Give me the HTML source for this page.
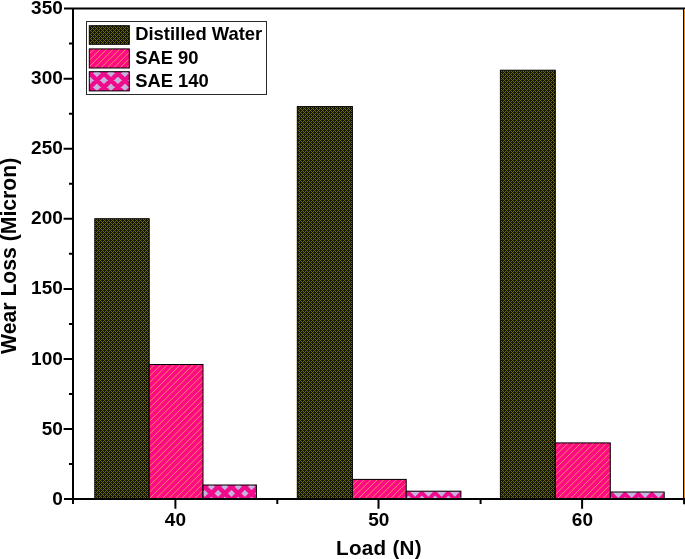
<!DOCTYPE html>
<html lang="en"><head><meta charset="utf-8"><title>Wear Loss vs Load</title>
<style>
html,body{margin:0;padding:0;background:#fff;}
body{width:685px;height:559px;overflow:hidden;}
svg{display:block;}
text{font-family:"Liberation Sans",sans-serif;font-weight:bold;fill:#000;}
.t{font-size:19px;letter-spacing:0.1px;}
.l{font-size:18.4px;}
.a{font-size:20.6px;letter-spacing:0.3px;}
.v{font-size:21.2px;}
</style></head><body>
<svg width="685" height="559" viewBox="0 0 685 559">
<defs>
<pattern id="pA" width="4" height="4" patternUnits="userSpaceOnUse" shape-rendering="crispEdges">
<rect width="4" height="4" fill="#141400"/>
<path d="M0,0h1v1h-1z M2,2h1v1h-1z M1,1h1v1h-1z M3,3h1v1h-1z M1,3h1v1h-1z M3,1h1v1h-1z" fill="#6a6a00"/>
</pattern>
<filter id="bl" x="-5%" y="-5%" width="110%" height="110%"><feGaussianBlur stdDeviation="0.7"/></filter>
</defs>
<rect width="685" height="559" fill="#fff"/>

<clipPath id="c1"><rect x="94.8" y="218.7" width="54.4" height="280.3"/></clipPath>
<g clip-path="url(#c1)"><rect x="91.8" y="215.7" width="60.4" height="286.3" fill="url(#pA)" filter="url(#bl)"/></g>
<rect x="94.8" y="218.7" width="54.4" height="280.3" fill="none" stroke="#000" stroke-width="1"/>
<clipPath id="c2"><rect x="149.2" y="364.5" width="53.8" height="134.5"/></clipPath>
<rect x="149.2" y="364.5" width="53.8" height="134.5" fill="#ff0a80"/>
<path clip-path="url(#c2)" d="M148.2,371.1L204.0,315.3M148.2,377.5L204.0,321.7M148.2,384.0L204.0,328.2M148.2,390.4L204.0,334.6M148.2,396.9L204.0,341.1M148.2,403.3L204.0,347.5M148.2,409.7L204.0,353.9M148.2,416.2L204.0,360.4M148.2,422.6L204.0,366.8M148.2,429.1L204.0,373.3M148.2,435.5L204.0,379.7M148.2,441.9L204.0,386.1M148.2,448.4L204.0,392.6M148.2,454.8L204.0,399.0M148.2,461.3L204.0,405.5M148.2,467.7L204.0,411.9M148.2,474.1L204.0,418.3M148.2,480.6L204.0,424.8M148.2,487.0L204.0,431.2M148.2,493.5L204.0,437.7M148.2,499.9L204.0,444.1M148.2,506.3L204.0,450.5M148.2,512.8L204.0,457.0M148.2,519.2L204.0,463.4M148.2,525.7L204.0,469.9M148.2,532.1L204.0,476.3M148.2,538.5L204.0,482.7M148.2,545.0L204.0,489.2M148.2,551.4L204.0,495.6" stroke="#f6a868" stroke-width="0.8" fill="none"/>
<rect x="149.2" y="364.5" width="53.8" height="134.5" fill="none" stroke="#000" stroke-width="1"/>
<clipPath id="c3"><rect x="203.0" y="485.0" width="53.4" height="14.0"/></clipPath>
<rect x="203.0" y="485.0" width="53.4" height="14.0" fill="#c6b4dc"/>
<path clip-path="url(#c3)" d="M200.0,478.0L259.4,418.6M200.0,491.4L259.4,432.0M200.0,504.8L259.4,445.4M200.0,518.2L259.4,458.8M200.0,531.6L259.4,472.2M200.0,545.0L259.4,485.6M200.0,558.4L259.4,499.0M200.0,508.8L259.4,568.2M200.0,495.4L259.4,554.8M200.0,482.0L259.4,541.4M200.0,468.6L259.4,528.0M200.0,455.2L259.4,514.6M200.0,441.8L259.4,501.2M200.0,428.4L259.4,487.8" stroke="#f00a8c" stroke-width="4.5" fill="none"/>
<rect x="203.0" y="485.0" width="53.4" height="14.0" fill="none" stroke="#000" stroke-width="1"/>
<clipPath id="c4"><rect x="297.3" y="106.6" width="55.1" height="392.4"/></clipPath>
<g clip-path="url(#c4)"><rect x="294.3" y="103.6" width="61.1" height="398.4" fill="url(#pA)" filter="url(#bl)"/></g>
<rect x="297.3" y="106.6" width="55.1" height="392.4" fill="none" stroke="#000" stroke-width="1"/>
<clipPath id="c5"><rect x="352.4" y="479.4" width="53.8" height="19.6"/></clipPath>
<rect x="352.4" y="479.4" width="53.8" height="19.6" fill="#ff0a80"/>
<path clip-path="url(#c5)" d="M351.4,486.3L407.2,430.5M351.4,492.7L407.2,436.9M351.4,499.2L407.2,443.4M351.4,505.6L407.2,449.8M351.4,512.1L407.2,456.3M351.4,518.5L407.2,462.7M351.4,524.9L407.2,469.1M351.4,531.4L407.2,475.6M351.4,537.8L407.2,482.0M351.4,544.3L407.2,488.5M351.4,550.7L407.2,494.9" stroke="#f6a868" stroke-width="0.8" fill="none"/>
<rect x="352.4" y="479.4" width="53.8" height="19.6" fill="none" stroke="#000" stroke-width="1"/>
<clipPath id="c6"><rect x="406.2" y="491.2" width="54.7" height="7.8"/></clipPath>
<rect x="406.2" y="491.2" width="54.7" height="7.8" fill="#f00a8c"/>
<path clip-path="url(#c6)" d="M396.5,491.3L407.2,491.3L401.9,496.7zM409.7,491.3L420.5,491.3L415.1,496.7zM423.0,491.3L433.8,491.3L428.4,496.7zM436.2,491.3L447.0,491.3L441.6,496.7zM449.5,491.3L460.2,491.3L454.9,496.7zM462.7,491.3L473.5,491.3L468.1,496.7zM391.4,499.5L399.4,499.5L395.4,495.5zM404.6,499.5L412.6,499.5L408.6,495.5zM417.9,499.5L425.9,499.5L421.9,495.5zM431.1,499.5L439.1,499.5L435.1,495.5zM444.4,499.5L452.4,499.5L448.4,495.5zM457.6,499.5L465.6,499.5L461.6,495.5zM470.9,499.5L478.9,499.5L474.9,495.5z" fill="#c6b4dc"/>
<rect x="406.2" y="491.2" width="54.7" height="7.8" fill="none" stroke="#000" stroke-width="1"/>
<clipPath id="c7"><rect x="500.4" y="70.2" width="54.9" height="428.8"/></clipPath>
<g clip-path="url(#c7)"><rect x="497.4" y="67.2" width="60.9" height="434.8" fill="url(#pA)" filter="url(#bl)"/></g>
<rect x="500.4" y="70.2" width="54.9" height="428.8" fill="none" stroke="#000" stroke-width="1"/>
<clipPath id="c8"><rect x="555.3" y="442.9" width="55.0" height="56.1"/></clipPath>
<rect x="555.3" y="442.9" width="55.0" height="56.1" fill="#ff0a80"/>
<path clip-path="url(#c8)" d="M554.3,444.0L611.3,387.0M554.3,450.4L611.3,393.4M554.3,456.8L611.3,399.8M554.3,463.3L611.3,406.3M554.3,469.7L611.3,412.7M554.3,476.2L611.3,419.2M554.3,482.6L611.3,425.6M554.3,489.0L611.3,432.0M554.3,495.5L611.3,438.5M554.3,501.9L611.3,444.9M554.3,508.4L611.3,451.4M554.3,514.8L611.3,457.8M554.3,521.2L611.3,464.2M554.3,527.7L611.3,470.7M554.3,534.1L611.3,477.1M554.3,540.6L611.3,483.6M554.3,547.0L611.3,490.0M554.3,553.4L611.3,496.4" stroke="#f6a868" stroke-width="0.8" fill="none"/>
<rect x="555.3" y="442.9" width="55.0" height="56.1" fill="none" stroke="#000" stroke-width="1"/>
<clipPath id="c9"><rect x="610.3" y="492.0" width="53.9" height="7.0"/></clipPath>
<rect x="610.3" y="492.0" width="53.9" height="7.0" fill="#f00a8c"/>
<path clip-path="url(#c9)" d="M598.9,492.0L610.6,492.0L604.8,497.9zM612.3,492.0L624.1,492.0L618.2,497.9zM625.8,492.0L637.6,492.0L631.7,497.9zM639.2,492.0L651.0,492.0L645.1,497.9zM652.7,492.0L664.5,492.0L658.6,497.9zM666.1,492.0L677.9,492.0L672.0,497.9zM595.7,499.4L600.5,499.4L598.1,497.0zM609.1,499.4L613.9,499.4L611.5,497.0zM622.6,499.4L627.4,499.4L625.0,497.0zM636.1,499.4L640.9,499.4L638.5,497.0zM649.5,499.4L654.3,499.4L651.9,497.0zM663.0,499.4L667.8,499.4L665.4,497.0zM676.4,499.4L681.2,499.4L678.8,497.0z" fill="#c6b4dc"/>
<rect x="610.3" y="492.0" width="53.9" height="7.0" fill="none" stroke="#000" stroke-width="1"/>
<g stroke="#000" stroke-width="2" fill="none">
<path d="M73,7.4 V504 M64,8.4 H686 M64,499 H686 M684.1,498 V504.2"/>
<path d="M683.55,8 V499" stroke-width="1"/>
<path d="M684.5,9.3 V498" stroke="#e8901c" stroke-width="1"/>
<path d="M63.6,429.0 H73 M63.6,359.0 H73 M63.6,288.9 H73 M63.6,218.8 H73 M63.6,148.7 H73 M63.6,78.7 H73 M69,464.1 H73 M69,394.0 H73 M69,323.9 H73 M69,253.8 H73 M69,183.8 H73 M69,113.7 H73 M69,43.6 H73 M175.4,499 V508.8 M378.5,499 V508.8 M582.1,499 V508.8 M277.3,499 V504 M480.6,499 V504"/>
</g>
<text class="t" x="63" y="504.6" text-anchor="end">0</text>
<text class="t" x="63" y="434.5" text-anchor="end">50</text>
<text class="t" x="63" y="364.5" text-anchor="end">100</text>
<text class="t" x="63" y="294.4" text-anchor="end">150</text>
<text class="t" x="63" y="224.3" text-anchor="end">200</text>
<text class="t" x="63" y="154.2" text-anchor="end">250</text>
<text class="t" x="63" y="84.2" text-anchor="end">300</text>
<text class="t" x="63" y="14.1" text-anchor="end">350</text>
<text class="t" x="175.5" y="526.4" text-anchor="middle">40</text>
<text class="t" x="378.8" y="526.4" text-anchor="middle">50</text>
<text class="t" x="582.4" y="526.4" text-anchor="middle">60</text>
<text class="a" x="379" y="554.7" text-anchor="middle">Load (N)</text>
<text class="v" transform="translate(16.2,255.8) rotate(-90)" text-anchor="middle">Wear Loss (Micron)</text>
<rect x="86.5" y="21.5" width="180" height="73" fill="#fff" stroke="#2a2a2a" stroke-width="1"/>
<clipPath id="c10"><rect x="89.3" y="25.7" width="40.0" height="18.6"/></clipPath>
<g clip-path="url(#c10)"><rect x="86.3" y="22.7" width="46.0" height="24.6" fill="url(#pA)" filter="url(#bl)"/></g>
<rect x="89.3" y="25.7" width="40.0" height="18.6" fill="none" stroke="#000" stroke-width="1"/>
<clipPath id="c11"><rect x="89.3" y="48.9" width="40.0" height="19.1"/></clipPath>
<rect x="89.3" y="48.9" width="40.0" height="19.1" fill="#ff0a80"/>
<path clip-path="url(#c11)" d="M88.3,54.9L130.3,12.9M88.3,61.3L130.3,19.3M88.3,67.7L130.3,25.7M88.3,74.1L130.3,32.1M88.3,80.5L130.3,38.5M88.3,86.9L130.3,44.9M88.3,93.3L130.3,51.3M88.3,99.7L130.3,57.7M88.3,106.1L130.3,64.1" stroke="#f6a868" stroke-width="0.8" fill="none"/>
<rect x="89.3" y="48.9" width="40.0" height="19.1" fill="none" stroke="#000" stroke-width="1"/>
<clipPath id="c12"><rect x="89.3" y="71.7" width="40.0" height="19.2"/></clipPath>
<rect x="89.3" y="71.7" width="40.0" height="19.2" fill="#c6b4dc"/>
<path clip-path="url(#c12)" d="M86.3,62.9L132.3,16.9M86.3,76.9L132.3,30.9M86.3,90.9L132.3,44.9M86.3,104.9L132.3,58.9M86.3,118.9L132.3,72.9M86.3,132.9L132.3,86.9M86.3,146.9L132.3,100.9M86.3,97.7L132.3,143.7M86.3,83.7L132.3,129.7M86.3,69.7L132.3,115.7M86.3,55.7L132.3,101.7M86.3,41.7L132.3,87.7M86.3,27.7L132.3,73.7" stroke="#f00a8c" stroke-width="4.5" fill="none"/>
<rect x="89.3" y="71.7" width="40.0" height="19.2" fill="none" stroke="#000" stroke-width="1"/>
<text class="l" x="135.2" y="40.2">Distilled Water</text>
<text class="l" x="135.2" y="63.8">SAE 90</text>
<text class="l" x="135.2" y="86.6">SAE 140</text>
</svg></body></html>
